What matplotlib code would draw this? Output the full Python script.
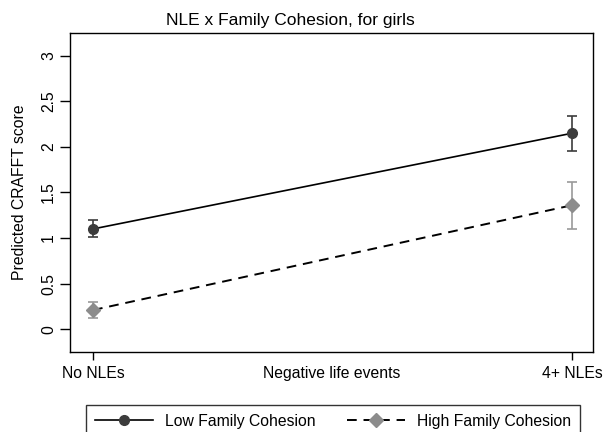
import numpy as np
import matplotlib
matplotlib.use("Agg")
import matplotlib.pyplot as plt

plt.rcParams['font.family'] = ['Liberation Sans', 'DejaVu Sans']

# data
categories = ["No NLEs", "4+ NLEs"]
low_mean = [1.10, 2.15]
low_lo = [1.01, 1.96]
low_hi = [1.20, 2.34]
high_mean = [0.21, 1.36]
high_lo = [0.12, 1.10]
high_hi = [0.30, 1.62]
y_ticks = [0, 0.5, 1, 1.5, 2, 2.5, 3]
y_ticklabels = ["0", "0.5", "1", "1.5", "2", "2.5", "3"]

fig = plt.figure(figsize=(6.03, 4.32), dpi=100)
ax = fig.add_axes([70/603, 1-352/432, 523/603, 319/432])

x = np.arange(len(categories))

low_err = [np.array(low_mean) - np.array(low_lo), np.array(low_hi) - np.array(low_mean)]
high_err = [np.array(high_mean) - np.array(high_lo), np.array(high_hi) - np.array(high_mean)]

ax.errorbar(x, low_mean, yerr=low_err, fmt='none', ecolor='#3c3c3c', elinewidth=1.2, capsize=3.5, capthick=1.2, zorder=2)
ax.errorbar(x, high_mean, yerr=high_err, fmt='none', ecolor='#9a9a9a', elinewidth=1.2, capsize=3.5, capthick=1.2, zorder=2)

ax.plot(x, low_mean, color='black', lw=1.2, marker='o', markersize=7,
        markerfacecolor='#3c3c3c', markeredgecolor='#3c3c3c', label='Low Family Cohesion', zorder=3)
ax.plot(x, high_mean, color='black', lw=1.4, ls=(0, (5, 3.5)), marker='D', markersize=7,
        markerfacecolor='#8c8c8c', markeredgecolor='#8c8c8c', label='High Family Cohesion', zorder=3)

ax.set_xlim(-0.048, 1.044)
ax.set_ylim(-0.25, 3.25)
ax.set_xticks(x)
ax.set_xticklabels(categories, fontsize=11.3)
ax.set_yticks(y_ticks)
ax.set_yticklabels(y_ticklabels, fontsize=11.3, rotation=90, va='center')
ax.tick_params(axis='x', direction='out', length=6, width=1, color='black', pad=4)
ax.tick_params(axis='y', direction='out', length=7, width=1, color='black', pad=3)
for s in ax.spines.values():
    s.set_linewidth(1.0)
    s.set_color('black')

ax.set_xlabel("Negative life events", fontsize=11.3, labelpad=-11)
ax.set_ylabel("Predicted CRAFFT score", fontsize=11.3, labelpad=10)

fig.text(290/603, 1-20/432, "NLE x Family Cohesion, for girls", fontsize=12.5, ha='center', va='center')

leg = fig.legend(loc='upper center', bbox_to_anchor=(333/603, 1-405/432), ncol=2,
                 fontsize=11.3, frameon=True, fancybox=False, edgecolor='black',
                 handlelength=3.7, columnspacing=2.0, borderpad=0.55, handletextpad=0.75,
                 borderaxespad=0)
leg.get_frame().set_linewidth(1.0)

fig.savefig("out.png", dpi=100)
